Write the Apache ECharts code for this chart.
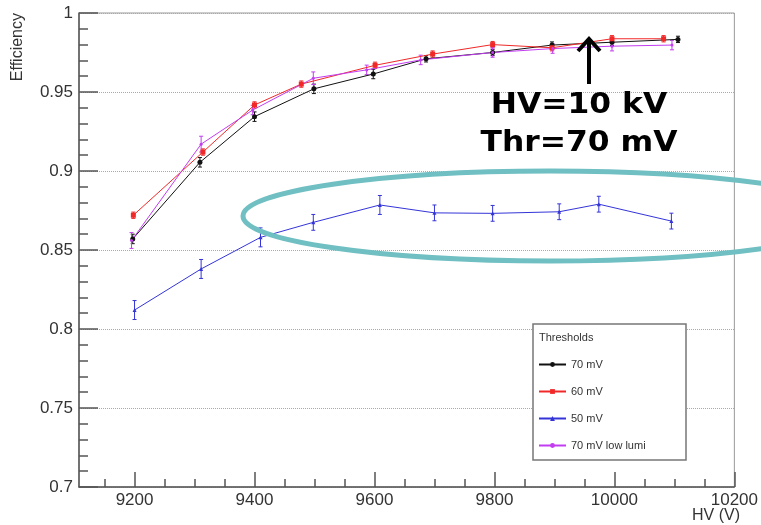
<!DOCTYPE html>
<html lang="en">
<head>
    <meta charset="UTF-8">
    <title>Efficiency vs HV</title>
    <style>
        html, body { margin: 0; padding: 0; background: #fff; }
        #main { width: 761px; height: 525px; }
    </style>
</head>
<body>
<div id="main"></div>
<script src="https://cdn.jsdelivr.net/npm/echarts@6/dist/echarts.min.js"></script>
<script>
    // HV (V), efficiency and error for each threshold
    var hv70 = [9197, 9309, 9400, 9499, 9598, 9686, 9797, 9896, 9996, 10106];
    var eff70 = [0.857, 0.9055, 0.9344, 0.952, 0.9614, 0.971, 0.975, 0.9797, 0.9815, 0.9833];
    var err70 = [0.003, 0.003, 0.003, 0.003, 0.003, 0.002, 0.002, 0.002, 0.002, 0.002];

    var hv60 = [9198, 9314, 9400, 9478, 9601, 9697, 9797, 9896, 9996, 10082];
    var eff60 = [0.872, 0.912, 0.9418, 0.955, 0.9669, 0.974, 0.980, 0.978, 0.9837, 0.9837];
    var err60 = [0.002, 0.002, 0.002, 0.002, 0.002, 0.002, 0.002, 0.002, 0.002, 0.002];

    var hv50 = [9200, 9311, 9410, 9498, 9609, 9700, 9797, 9908, 9974, 10095];
    var eff50 = [0.812, 0.838, 0.858, 0.8675, 0.8785, 0.8735, 0.8732, 0.8742, 0.879, 0.8683];
    var err50 = [0.006, 0.006, 0.006, 0.005, 0.006, 0.005, 0.005, 0.005, 0.005, 0.005];

    var hvLow = [9195, 9311, 9397, 9498, 9587, 9677, 9797, 9897, 9996, 10096];
    var effLow = [0.856, 0.917, 0.9386, 0.9587, 0.964, 0.9703, 0.975, 0.9775, 0.979, 0.9797];
    var errLow = [0.005, 0.005, 0.003, 0.004, 0.003, 0.003, 0.003, 0.003, 0.003, 0.003];

    var xMajor = [9200, 9400, 9600, 9800, 10000, 10200];
    var xMinor = [9150, 9250, 9300, 9350, 9450, 9500, 9550, 9650, 9700, 9750, 9850, 9900, 9950, 10050, 10100, 10150];

    function pts(hv, eff) {
        return hv.map(function (v, i) { return [v, eff[i]]; });
    }
    function errPts(hv, eff, err) {
        return hv.map(function (v, i) { return [v, eff[i], err[i]]; });
    }
    function errorBars(color) {
        return function (params, api) {
            var x = api.value(0), y = api.value(1), e = api.value(2);
            var hi = api.coord([x, y + e]);
            var lo = api.coord([x, y - e]);
            var c = 2;
            var st = {stroke: color, lineWidth: 1};
            return {
                type: 'group',
                children: [
                    {type: 'line', shape: {x1: hi[0], y1: hi[1], x2: lo[0], y2: lo[1]}, style: st},
                    {type: 'line', shape: {x1: hi[0] - c, y1: hi[1], x2: hi[0] + c, y2: hi[1]}, style: st},
                    {type: 'line', shape: {x1: lo[0] - c, y1: lo[1], x2: lo[0] + c, y2: lo[1]}, style: st}
                ]
            };
        };
    }
    function lineSeries(name, hv, eff, color, symbol, size) {
        return {
            name: name,
            type: 'line',
            data: pts(hv, eff),
            symbol: symbol,
            symbolSize: size,
            lineStyle: {color: color, width: 1},
            itemStyle: {color: color},
            z: 3
        };
    }
    function errSeries(hv, eff, err, color) {
        return {
            type: 'custom',
            name: 'err',
            data: errPts(hv, eff, err),
            renderItem: errorBars(color),
            z: 2,
            silent: true
        };
    }

    var cBlack = '#111111', cRed = '#f02828', cBlue = '#3434d8', cMag = '#c23cf0';
    var font = 'Liberation Sans, Arial, sans-serif';

    var myChart = echarts.init(document.getElementById('main'));
    var option = {
        backgroundColor: '#fff',
        animation: false,
        grid: {
            left: 79, top: 13, right: 21, bottom: 38,
            show: true, borderColor: '#999', borderWidth: 1
        },
        xAxis: [{
            type: 'value',
            min: 9107.4,
            max: 10200,
            axisLine: {show: true, lineStyle: {color: '#555', width: 1.5}},
            axisTick: {show: true, inside: true, length: 15, customValues: xMajor, lineStyle: {color: '#555', width: 1.5}},
            axisLabel: {customValues: xMajor, color: '#333', fontSize: 17, fontFamily: font, margin: 5,
                formatter: function (v) { return String(v); }},
            splitLine: {show: false}
        }, {
            type: 'value',
            position: 'bottom',
            min: 9107.4,
            max: 10200,
            axisLine: {show: false},
            axisTick: {show: true, inside: true, length: 8, customValues: xMinor, lineStyle: {color: '#555', width: 1.5}},
            axisLabel: {show: false},
            splitLine: {show: false}
        }],
        yAxis: {
            type: 'value',
            min: 0.7,
            max: 1,
            interval: 0.05,
            axisLine: {show: true, lineStyle: {color: '#555', width: 1.5}},
            axisTick: {show: true, inside: true, length: 19, lineStyle: {color: '#555', width: 1.5}},
            minorTick: {show: true, splitNumber: 5, length: 9, lineStyle: {color: '#555', width: 1.5}},
            axisLabel: {color: '#333', fontSize: 17, fontFamily: font, margin: 6,
                formatter: function (v) { return String(Math.round(v * 100) / 100); }},
            splitLine: {show: true, lineStyle: {color: '#aaa', type: 'dotted', width: 1}}
        },
        legend: {
            data: ['70 mV', '60 mV', '50 mV', '70 mV low lumi'],
            orient: 'vertical',
            left: 538,
            top: 359,
            itemWidth: 27,
            itemHeight: 6,
            itemGap: 16,
            padding: 0,
            textStyle: {color: '#333', fontSize: 11, fontFamily: font},
            z: 10
        },
        graphic: [
            {type: 'rect', z: 5, shape: {x: 533, y: 324, width: 153, height: 136},
                style: {fill: '#fff', stroke: '#777', lineWidth: 1.5}},
            {type: 'text', z: 11, x: 539, y: 338,
                style: {text: 'Thresholds', fill: '#333', font: '11px ' + font, verticalAlign: 'middle'}},
            {type: 'text', x: 18, y: 13, rotation: Math.PI / 2,
                style: {text: 'Efficiency', fill: '#333', font: '16px ' + font, align: 'right', verticalAlign: 'middle'}},
            {type: 'text', x: 740, y: 516,
                style: {text: 'HV (V)', fill: '#333', font: '16px ' + font, align: 'right', verticalAlign: 'middle'}},
            {type: 'ellipse', z: 50, shape: {cx: 550, cy: 216, rx: 307, ry: 45},
                style: {fill: 'none', stroke: '#70bfc2', lineWidth: 5}},
            {type: 'line', z: 50, shape: {x1: 589, y1: 40, x2: 589, y2: 84},
                style: {stroke: '#000', lineWidth: 4}},
            {type: 'polyline', z: 50, shape: {points: [[578, 51], [589, 39], [600, 51]]},
                style: {stroke: '#000', lineWidth: 4, fill: 'none'}},
            {type: 'text', z: 50, x: 579, y: 106, scaleX: 1.12,
                style: {text: 'HV=10 kV', fill: '#000', font: 'bold 28px DejaVu Sans', align: 'center', verticalAlign: 'middle'}},
            {type: 'text', z: 50, x: 579, y: 144, scaleX: 1.12,
                style: {text: 'Thr=70 mV', fill: '#000', font: 'bold 28px DejaVu Sans', align: 'center', verticalAlign: 'middle'}}
        ],
        series: [
            lineSeries('70 mV', hv70, eff70, cBlack, 'circle', 5),
            lineSeries('60 mV', hv60, eff60, cRed, 'rect', 5),
            lineSeries('50 mV', hv50, eff50, cBlue, 'triangle', 4),
            lineSeries('70 mV low lumi', hvLow, effLow, cMag, 'circle', 3),
            errSeries(hv70, eff70, err70, cBlack),
            errSeries(hv60, eff60, err60, cRed),
            errSeries(hv50, eff50, err50, cBlue),
            errSeries(hvLow, effLow, errLow, cMag)
        ]
    };
    myChart.setOption(option);
</script>
</body>
</html>
